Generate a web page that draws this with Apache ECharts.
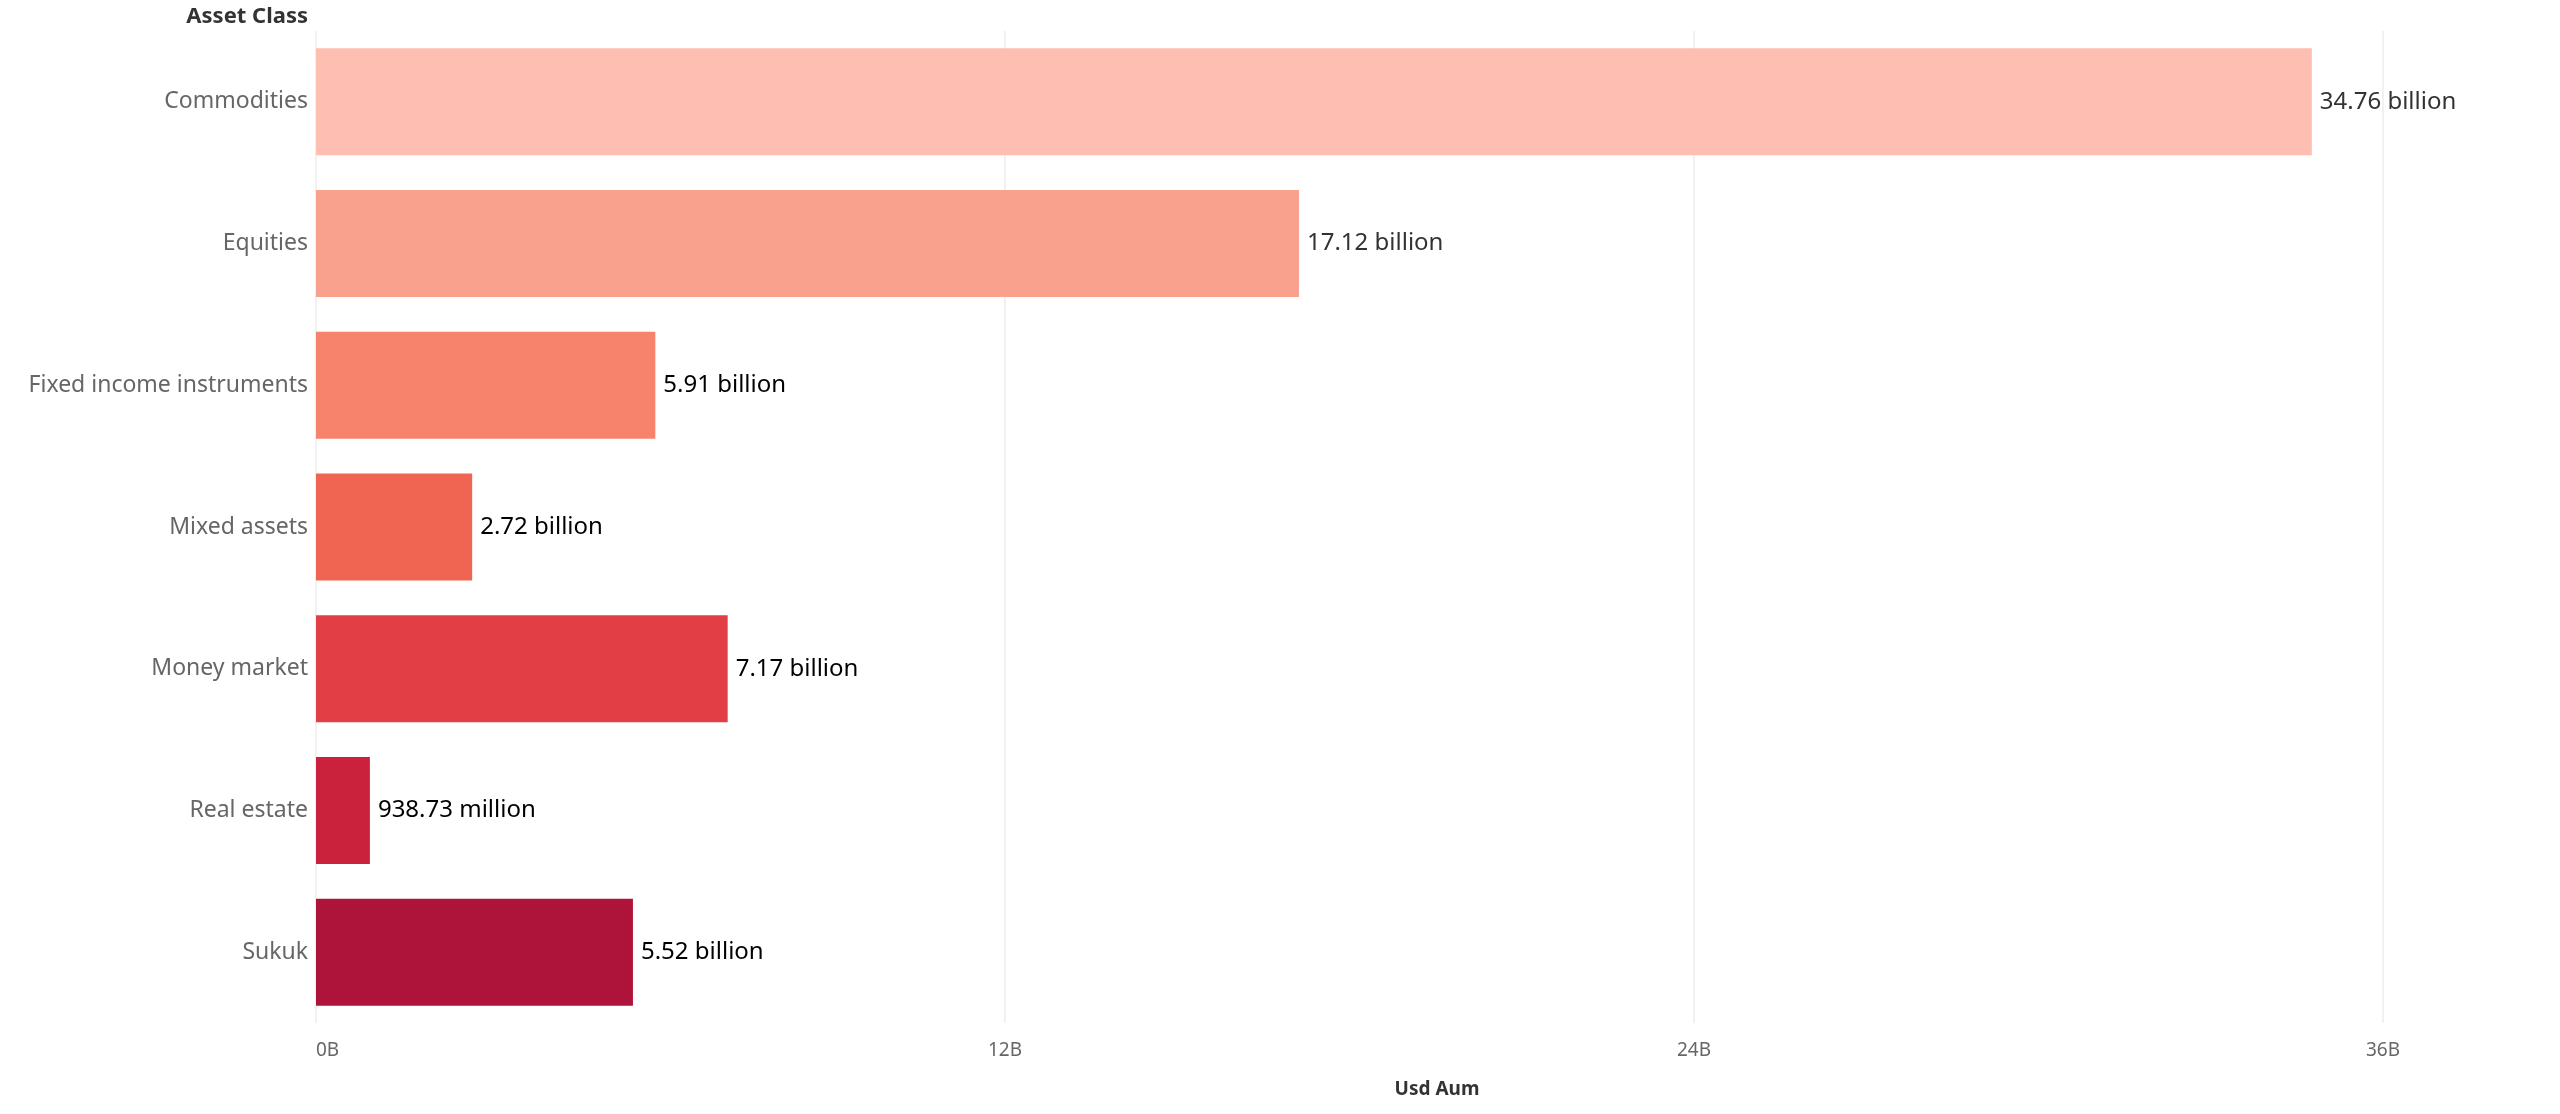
<!DOCTYPE html>
<html>
<head>
<meta charset="utf-8">
<script src="https://cdn.jsdelivr.net/npm/echarts@6/dist/echarts.min.js"></script>
<style>
    html, body {
        margin: 0;
        padding: 0;
        background: #fff;
    }
    #main {
        width: 2560px;
        height: 1114px;
    }
</style>
</head>
<body>
<div id="main"></div>
<script type="text/javascript">
    var categories = ['Commodities', 'Equities', 'Fixed income instruments', 'Mixed assets', 'Money market', 'Real estate', 'Sukuk'];
    var usdAum = [34.76e9, 17.12e9, 5.91e9, 2.72e9, 7.17e9, 938.73e6, 5.52e9];
    var barColors = ['#FEBEB1', '#F9A18D', '#F8836D', '#F06452', '#E13E46', '#CA223D', '#AE1439'];
    var labelColors = ['#333333', '#333333', '#000000', '#000000', '#000000', '#000000', '#000000'];
    var tickValues = [0, 12e9, 24e9, 36e9];

    function fmtAmount(v) {
        if (v >= 1e9) return (v / 1e9).toFixed(2) + ' billion';
        return (v / 1e6).toFixed(2) + ' million';
    }

    var myChart = echarts.init(document.getElementById('main'));

    var option = {
        backgroundColor: '#fff',
        textStyle: { fontFamily: 'Noto Sans' },
        grid: { left: 316, right: 177, top: 31, bottom: 91 },
        xAxis: {
            type: 'value',
            min: 0,
            max: 36e9,
            interval: 12e9,
            axisLine: { show: false },
            axisTick: { show: false },
            splitLine: { lineStyle: { color: '#ECECEC', width: 1.5 } },
            axisLabel: {
                color: '#666',
                fontSize: 19,
                margin: 18,
                alignMinLabel: 'left',
                formatter: function (v) {
                    return tickValues.indexOf(v) >= 0 ? (v / 1e9) + 'B' : '';
                }
            }
        },
        yAxis: {
            type: 'category',
            data: categories,
            inverse: true,
            axisLine: { show: false },
            axisTick: { show: false },
            axisLabel: { color: '#666', fontSize: 23, margin: 8 }
        },
        series: [{
            type: 'bar',
            barCategoryGap: '24.5%',
            data: usdAum.map(function (v, i) {
                return {
                    value: v,
                    itemStyle: { color: barColors[i] },
                    label: { color: labelColors[i] }
                };
            }),
            label: {
                show: true,
                position: 'right',
                distance: 8,
                fontSize: 24,
                formatter: function (p) { return fmtAmount(p.value); }
            }
        }],
        graphic: [{
            type: 'text',
            x: 308,
            y: 17,
            style: {
                text: 'Asset Class',
                font: 'bold 22px "Noto Sans"',
                fill: '#333',
                align: 'right',
                verticalAlign: 'middle'
            }
        }, {
            type: 'text',
            x: 1437,
            y: 1090,
            style: {
                text: 'Usd Aum',
                font: 'bold 19px "Noto Sans"',
                fill: '#333',
                align: 'center',
                verticalAlign: 'middle'
            }
        }]
    };

    myChart.setOption(option);
</script>
</body>
</html>
